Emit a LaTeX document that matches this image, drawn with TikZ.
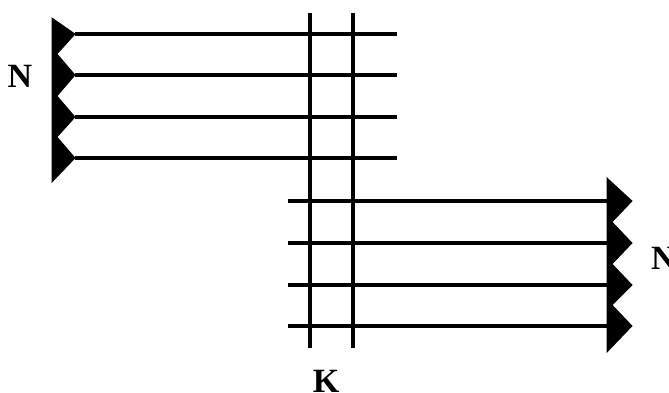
\documentclass[tikz,border=0pt]{standalone}
\usepackage{fontspec}
\setmainfont{Liberation Serif}
\begin{document}
\begin{tikzpicture}[x=1pt,y=-1pt,
  rod/.style={line width=3.2pt},
  saw/.style={fill=black,draw=black,line width=0.8pt,line join=miter},
  lbl/.style={font=\fontsize{34}{38}\selectfont\bfseries,inner sep=0pt}]
\useasboundingbox (0,0) rectangle (669,392);
% left sawtooth
\draw[saw] (52,18) -- (75,34) -- (57,54) -- (75,75) -- (57,96) -- (75,117) -- (57,137) -- (75,158) -- (52,182) -- cycle;
% right sawtooth
\draw[saw] (607,178) -- (632,201) -- (612,222) -- (632,243) -- (612,264) -- (632,285) -- (612,305) -- (632,326) -- (607,352) -- cycle;
% named coordinates
\foreach \i/\y in {1/34,2/75,3/117,4/158} {
  \coordinate (ta\i) at (75,\y);
  \coordinate (tb\i) at (397,\y);
  \draw[rod] (ta\i) -- (tb\i);
}
\foreach \i/\y in {1/201,2/243,3/285,4/326} {
  \coordinate (ba\i) at (288,\y);
  \coordinate (bb\i) at (607,\y);
  \draw[rod] (ba\i) -- (bb\i);
}
\coordinate (v1a) at (310,13); \coordinate (v1b) at (310,348);
\coordinate (v2a) at (353,13); \coordinate (v2b) at (353,348);
\draw[rod] (v1a) -- (v1b);
\draw[rod] (v2a) -- (v2b);
\node[lbl] (nl) at (20,76) {N};
\node[lbl,anchor=west] (nr) at (651,258) {N};
\node[lbl] (k) at (326,381) {K};
\end{tikzpicture}
\end{document}
